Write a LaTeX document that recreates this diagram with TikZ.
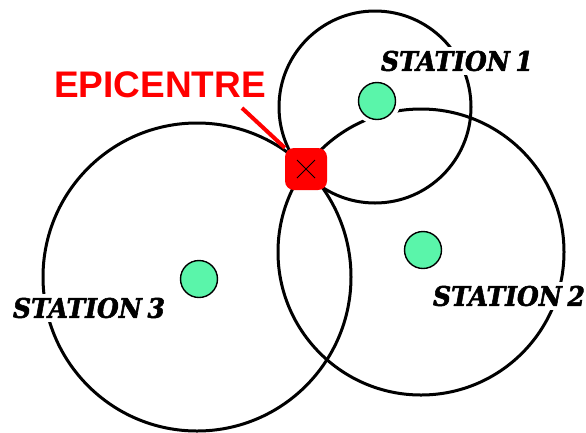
\documentclass[tikz,border=0pt]{standalone}
\usepackage{fontspec}
\usetikzlibrary{calc}
\newfontfamily\epifont{Liberation Sans}
\newfontfamily\stfont{DejaVu Serif}[FakeStretch=0.93,FakeBold=2]
\definecolor{dotgreen}{RGB}{90,245,170}
\definecolor{epired}{RGB}{255,0,0}
\begin{document}
\begin{tikzpicture}[x=1pt,y=-1pt,
  ring/.style={draw=black,line width=3pt},
  stationdot/.style={circle,fill=dotgreen,draw=black,line width=1.4pt,minimum size=37pt,inner sep=0pt},
  halo/.style={circle,fill=white,minimum size=47pt,inner sep=0pt},
  stlabel/.style={fill=white,inner sep=4pt,font=\stfont\bfseries\itshape\fontsize{27}{27}\selectfont},
  epilabel/.style={text=epired,inner sep=0pt,font=\epifont\bfseries\fontsize{37}{37}\selectfont},
  epibox/.style={rectangle,fill=epired,minimum size=42pt,inner sep=0pt,rounded corners=9pt},
  pointer/.style={draw=epired,line width=4pt}]
\useasboundingbox (0,0) rectangle (586,432);
% circles
\coordinate (c1) at (375,107);
\coordinate (c2) at (421,252);
\coordinate (c3) at (197,277);
\draw[ring] (c1) circle[radius=96pt];
\draw[ring] (c2) circle[radius=143pt];
\draw[ring] (c3) circle[radius=154pt];
% epicentre
\node[epilabel] (epitext) at (160,85) {EPICENTRE};
\coordinate (pstart) at (242,108);
\node[epibox] (epi) at (306,169) {};
\draw[pointer] (pstart) -- (epi.north west);
\draw[line width=0.8pt] ($(epi.center)+(-9,-9)$) -- ($(epi.center)+(9,9)$);
\draw[line width=0.8pt] ($(epi.center)+(9,-9)$) -- ($(epi.center)+(-9,9)$);
% stations
\node[halo] at (377,101) {};
\node[stationdot] (s1) at (377,101) {};
\node[halo] at (423,250) {};
\node[stationdot] (s2) at (423,250) {};
\node[halo] at (199,279) {};
\node[stationdot] (s3) at (199,279) {};
\node[stlabel] (l1) at (457,61) {STATION\hspace{-3pt} 1};
\node[stlabel] (l2) at (509,296) {STATION\hspace{-3pt} 2};
\node[stlabel] (l3) at (89,308) {STATION\hspace{-3pt} 3};
\end{tikzpicture}
\end{document}
